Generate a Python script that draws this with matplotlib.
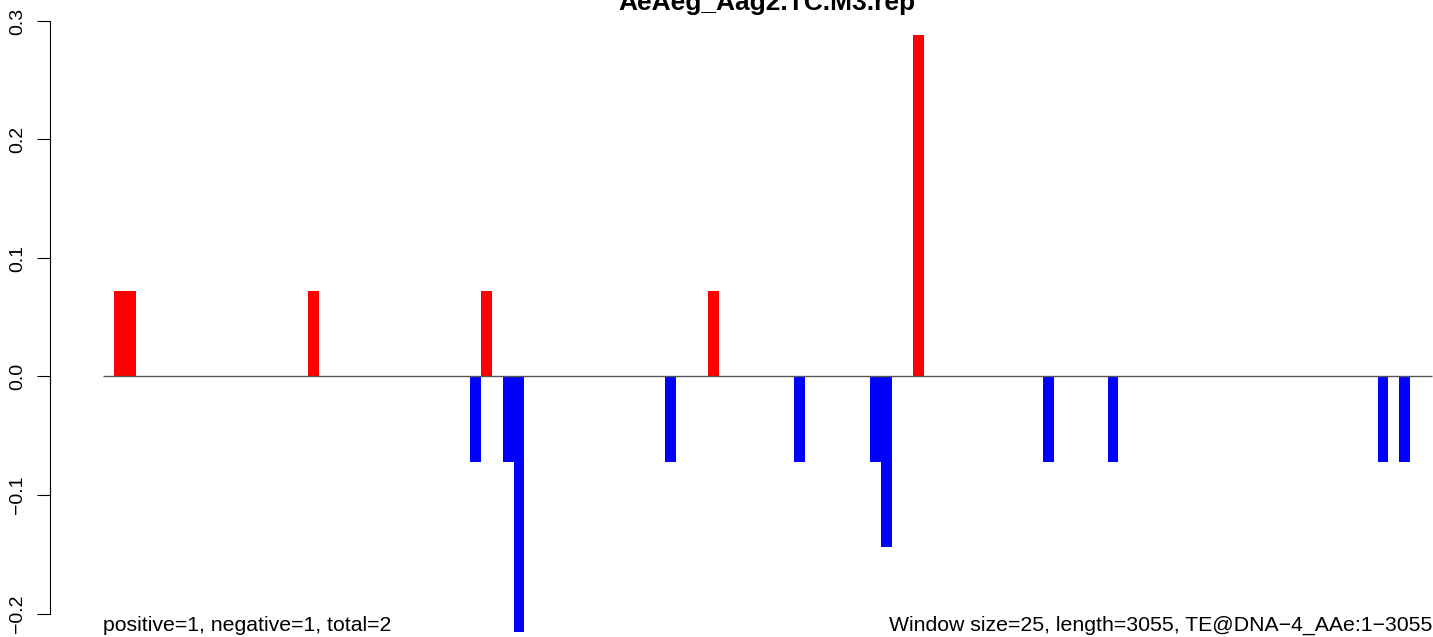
import matplotlib
matplotlib.use("Agg")
import matplotlib.pyplot as plt

plt.rcParams['font.family'] = ['Liberation Sans', 'DejaVu Sans']

# ---- data ----
n_windows = 123
pos_windows = [1, 2, 19, 35, 56, 75]
pos_values = [0.072, 0.072, 0.072, 0.072, 0.072, 0.288]
neg_windows = [34, 37, 38, 52, 64, 71, 72, 87, 93, 118, 120]
neg_values = [-0.072, -0.072, -0.216, -0.072, -0.072, -0.072,
              -0.144, -0.072, -0.072, -0.072, -0.072]
y_ticks = [-0.2, -0.1, 0.0, 0.1, 0.2, 0.3]
y_tick_labels = ["\u22120.2", "\u22120.1", "0.0", "0.1", "0.2", "0.3"]
title = "AeAeg_Aag2.TC.M3.rep"
left_note = "positive=1, negative=1, total=2"
right_note = "Window size=25, length=3055, TE@DNA\u22124_AAe:1\u22123055"

# ---- layout ----
W, H = 1433, 637
fig = plt.figure(figsize=(W / 100, H / 100), dpi=100)
ax_left_px = 50
ax = fig.add_axes([ax_left_px / W, 0, 1 - ax_left_px / W, 1])

px_per_bar = 10.8
x_left = -(103.1 - ax_left_px) / px_per_bar
ax.set_xlim(x_left, x_left + (W - ax_left_px) / px_per_bar)
zero_px = 376.5
px_per_unit = 1185.0
ax.set_ylim(-(H - zero_px) / px_per_unit, zero_px / px_per_unit)

ax.bar(pos_windows, pos_values, width=1, align='edge', color='#FF0000',
       linewidth=0, zorder=2)
ax.bar(neg_windows, neg_values, width=1, align='edge', color='#0000FF',
       linewidth=0, zorder=2)
ax.plot([0, n_windows], [0, 0], color='#555555', lw=1.0, zorder=3,
        solid_capstyle='butt')

for s in ['top', 'right', 'bottom']:
    ax.spines[s].set_visible(False)
ax.spines['left'].set_bounds(y_ticks[0], y_ticks[-1])
ax.spines['left'].set_linewidth(0.8)
ax.set_xticks([])
ax.set_yticks(y_ticks)
ax.set_yticklabels(y_tick_labels, rotation=90, va='center')
ax.tick_params(axis='y', length=9.1, width=0.8, pad=8, labelsize=14)
ax.patch.set_alpha(0)

fig.text(767 / W, 1 - 10 / H, title, ha='center', va='baseline',
         fontsize=19, fontweight='bold')
fig.text(103 / W, 1 - 631 / H, left_note, ha='left', va='baseline',
         fontsize=15.3)
fig.text(1432 / W, 1 - 631 / H, right_note, ha='right', va='baseline',
         fontsize=15.3)

fig.savefig("out.png", dpi=100)
